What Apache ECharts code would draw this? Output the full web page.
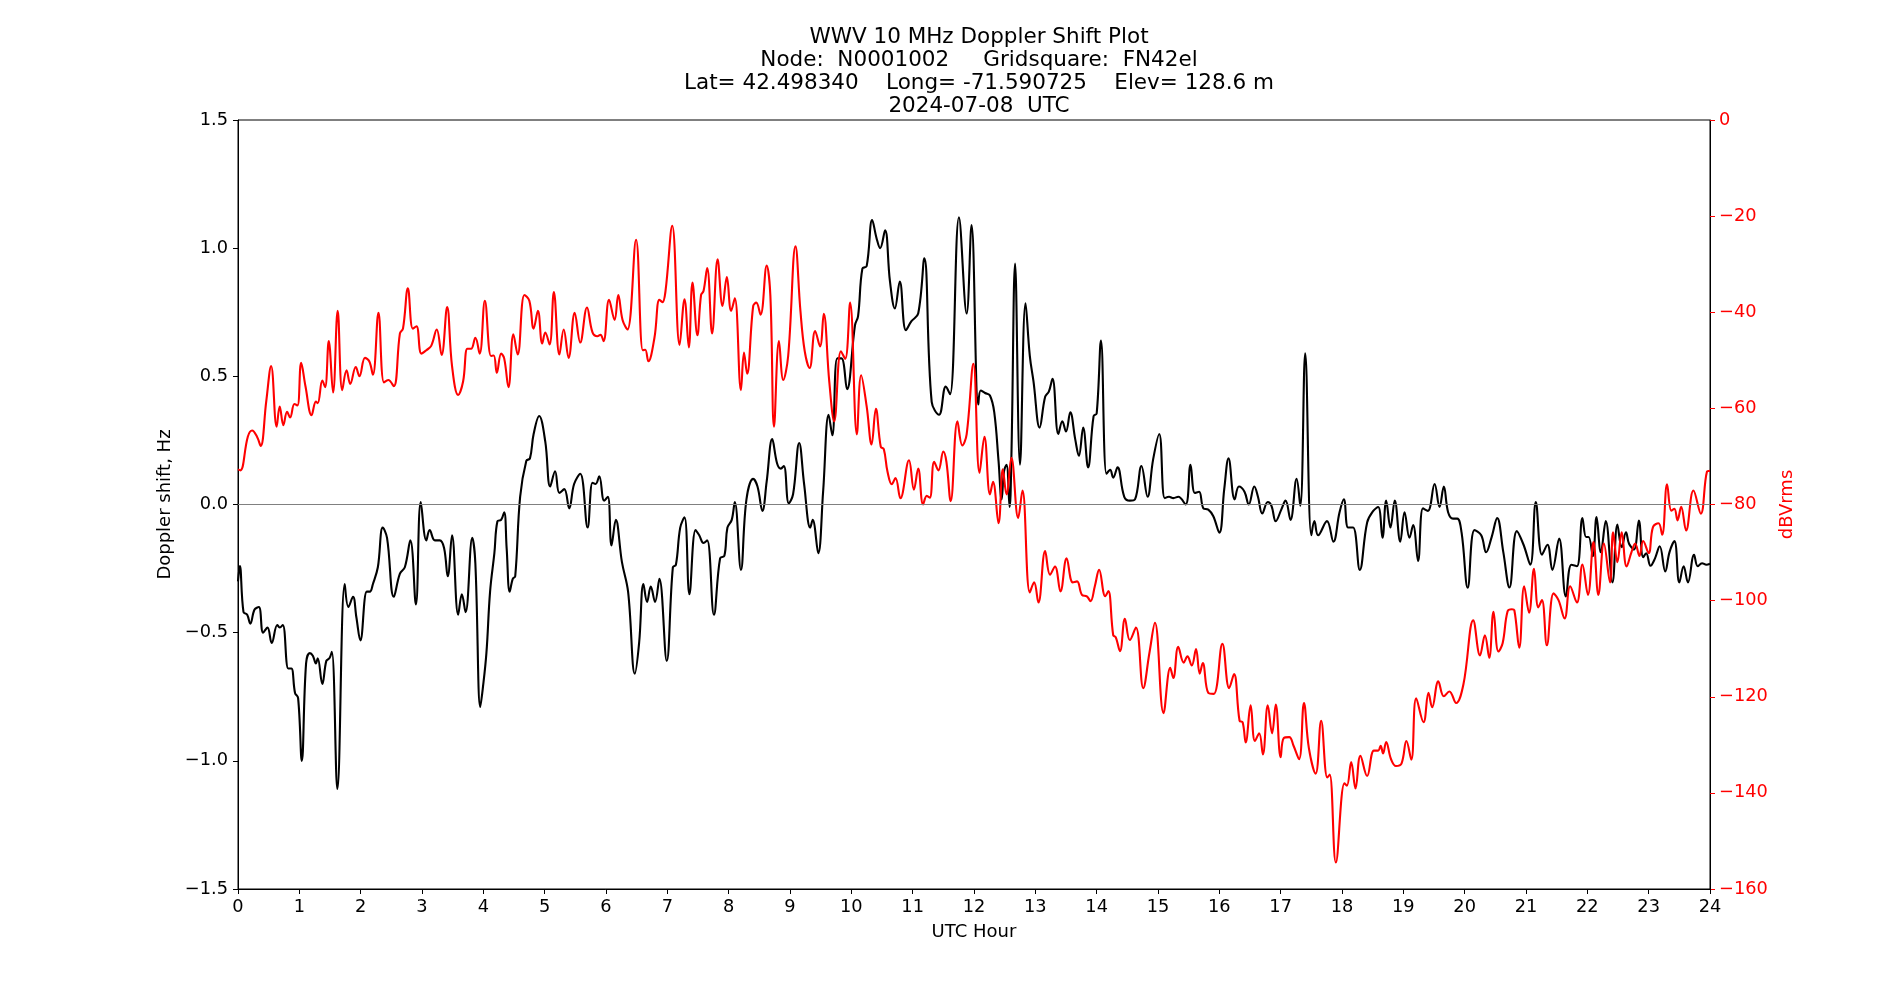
<!DOCTYPE html>
<html>
<head>
<meta charset="utf-8">
<title>WWV 10 MHz Doppler Shift Plot</title>
<script src="https://cdn.jsdelivr.net/npm/echarts@6.0.0/dist/echarts.min.js"></script>
<style>
    html, body { margin: 0; padding: 0; background: #fff; }
    #dopplerPlot { width: 1900px; height: 1000px; }
</style>
</head>
<body>
<div id="dopplerPlot"></div>
<script>
var titleLines = [
    'WWV 10 MHz Doppler Shift Plot',
    'Node:  N0001002     Gridsquare:  FN42el',
    'Lat= 42.498340    Long= -71.590725    Elev= 128.6 m',
    '2024-07-08  UTC'
];

var hourTicks = [0, 24, 1];
var shiftTicks = [-1.5, 1.5, 0.5];
var powerTicks = [-160, 0, 20];

// doppler shift (Hz), black trace
var shiftHours = [0.00, 0.03, 0.09, 0.15, 0.20, 0.27, 0.34, 0.41, 0.48, 0.55, 0.64, 0.68, 0.73, 0.82, 0.87, 0.93, 0.98, 1.04, 1.11, 1.17,
    1.22, 1.27, 1.30, 1.375, 1.44, 1.49, 1.53, 1.62, 1.74, 1.80, 1.875, 1.93, 1.995, 2.10, 2.15, 2.20, 2.28, 2.36, 2.43, 2.54,
    2.64, 2.72, 2.81, 2.90, 2.98, 3.07, 3.125, 3.21, 3.29, 3.36, 3.42, 3.49, 3.59, 3.65, 3.71, 3.82, 3.87, 3.95, 3.99, 4.05,
    4.11, 4.18, 4.23, 4.29, 4.34, 4.38, 4.43, 4.48, 4.52, 4.60, 4.70, 4.76, 4.82, 4.91, 5.01, 5.09, 5.17, 5.24, 5.32, 5.40,
    5.48, 5.58, 5.70, 5.78, 5.83, 5.89, 5.97, 6.03, 6.09, 6.16, 6.26, 6.36, 6.47, 6.54, 6.61, 6.67, 6.73, 6.80, 6.87, 6.99,
    7.09, 7.14, 7.21, 7.28, 7.36, 7.46, 7.52, 7.59, 7.65, 7.76, 7.86, 7.93, 7.98, 8.05, 8.10, 8.20, 8.29, 8.40, 8.47, 8.55,
    8.62, 8.71, 8.79, 8.85, 8.90, 8.98, 9.05, 9.15, 9.23, 9.33, 9.37, 9.46, 9.54, 9.63, 9.69, 9.77, 9.84, 9.93, 10.06, 10.11,
    10.18, 10.25, 10.34, 10.41, 10.47, 10.55, 10.63, 10.71, 10.79, 10.89, 10.98, 11.09, 11.19, 11.31, 11.43, 11.54, 11.61, 11.755, 11.88, 11.96,
    12.07, 12.11, 12.18, 12.26, 12.33, 12.40, 12.45, 12.49, 12.53, 12.58, 12.61, 12.67, 12.75, 12.84, 12.91, 12.97, 13.07, 13.16, 13.22, 13.28,
    13.375, 13.44, 13.50, 13.57, 13.65, 13.71, 13.78, 13.86, 13.95, 14.00, 14.07, 14.16, 14.22, 14.27, 14.34, 14.45, 14.54, 14.625, 14.73, 14.83,
    14.92, 15.02, 15.11, 15.18, 15.25, 15.33, 15.45, 15.53, 15.60, 15.67, 15.74, 15.82, 15.90, 16.00, 16.08, 16.15, 16.25, 16.32, 16.41, 16.48,
    16.57, 16.63, 16.70, 16.79, 16.85, 16.92, 17.01, 17.08, 17.16, 17.26, 17.32, 17.40, 17.50, 17.55, 17.61, 17.755, 17.86, 17.96, 18.03, 18.10,
    18.18, 18.29, 18.41, 18.51, 18.59, 18.66, 18.72, 18.79, 18.86, 18.95, 19.02, 19.10, 19.16, 19.24, 19.32, 19.40, 19.51, 19.59, 19.66, 19.73,
    19.81, 19.88, 19.95, 20.05, 20.16, 20.27, 20.35, 20.44, 20.53, 20.63, 20.73, 20.85, 20.96, 21.07, 21.16, 21.26, 21.35, 21.43, 21.54, 21.65,
    21.74, 21.83, 21.92, 21.98, 22.02, 22.09, 22.15, 22.22, 22.30, 22.41, 22.49, 22.56, 22.63, 22.68, 22.76, 22.84, 22.91, 22.96, 23.03, 23.10,
    23.18, 23.27, 23.34, 23.42, 23.50, 23.57, 23.64, 23.74, 23.80, 23.87, 23.94, 24.00];
var shiftHz = [-0.30, -0.24, -0.42, -0.43, -0.465, -0.41, -0.40, -0.50, -0.48, -0.54, -0.47, -0.48, -0.47, -0.64, -0.64, -0.735, -0.755, -1.00, -0.62, -0.58,
    -0.59, -0.62, -0.60, -0.70, -0.61, -0.60, -0.575, -1.11, -0.31, -0.40, -0.36, -0.44, -0.53, -0.34, -0.34, -0.31, -0.245, -0.09, -0.13, -0.36,
    -0.27, -0.245, -0.14, -0.39, 0.01, -0.14, -0.10, -0.14, -0.14, -0.17, -0.28, -0.12, -0.43, -0.35, -0.42, -0.13, -0.23, -0.79, -0.72, -0.58,
    -0.34, -0.19, -0.065, -0.06, -0.03, -0.17, -0.34, -0.29, -0.28, 0.03, 0.17, 0.18, 0.275, 0.345, 0.245, 0.07, 0.13, 0.045, 0.06, -0.015,
    0.08, 0.12, -0.09, 0.085, 0.08, 0.11, 0.015, 0.03, -0.16, -0.06, -0.225, -0.34, -0.66, -0.54, -0.31, -0.38, -0.32, -0.38, -0.29, -0.61,
    -0.245, -0.235, -0.09, -0.05, -0.35, -0.10, -0.12, -0.15, -0.14, -0.43, -0.21, -0.20, -0.09, -0.06, 0.01, -0.255, 0.02, 0.10, 0.07, -0.025,
    0.09, 0.255, 0.16, 0.14, 0.15, 0.005, 0.04, 0.24, 0.08, -0.09, -0.06, -0.19, 0.05, 0.35, 0.27, 0.57, 0.57, 0.45, 0.70, 0.735,
    0.92, 0.93, 1.11, 1.04, 1.00, 1.07, 0.87, 0.765, 0.87, 0.68, 0.715, 0.745, 0.96, 0.40, 0.35, 0.46, 0.43, 1.12, 0.745, 1.09,
    0.39, 0.445, 0.435, 0.425, 0.36, 0.17, 0.02, 0.13, 0.155, -0.01, 0.19, 0.94, 0.155, 0.785, 0.58, 0.48, 0.30, 0.42, 0.44, 0.49,
    0.275, 0.325, 0.285, 0.36, 0.255, 0.19, 0.30, 0.145, 0.345, 0.355, 0.64, 0.12, 0.135, 0.105, 0.145, 0.03, 0.015, 0.02, 0.15, 0.03,
    0.175, 0.275, 0.025, 0.03, 0.025, 0.03, 0.00, 0.155, 0.045, 0.05, -0.015, -0.02, -0.045, -0.11, 0.06, 0.18, 0.02, 0.07, 0.05, 0.00,
    0.07, 0.03, -0.035, 0.01, -0.005, -0.065, -0.02, 0.015, -0.06, 0.10, -0.005, 0.59, -0.12, -0.065, -0.12, -0.065, -0.145, -0.03, 0.02, -0.09,
    -0.09, -0.255, -0.07, -0.025, -0.01, -0.13, 0.015, -0.09, 0.015, -0.145, -0.03, -0.13, -0.08, -0.22, -0.015, -0.025, 0.08, -0.01, 0.07, -0.03,
    -0.055, -0.055, -0.11, -0.325, -0.10, -0.12, -0.186, -0.127, -0.053, -0.186, -0.324, -0.104, -0.157, -0.235, 0.01, -0.196, -0.157, -0.255, -0.133, -0.359,
    -0.235, -0.241, -0.053, -0.127, -0.127, -0.202, -0.049, -0.186, -0.065, -0.304, -0.078, -0.167, -0.108, -0.153, -0.176, -0.063, -0.206, -0.19, -0.239, -0.212,
    -0.163, -0.261, -0.186, -0.143, -0.304, -0.241, -0.304, -0.196, -0.241, -0.229, -0.235, -0.231];

// received level (dBVrms), red trace
var powerHours = [0.00, 0.04, 0.16, 0.23, 0.31, 0.37, 0.46, 0.54, 0.63, 0.68, 0.74, 0.80, 0.85, 0.92, 0.97, 1.03, 1.10, 1.20, 1.27, 1.30,
    1.375, 1.42, 1.48, 1.55, 1.625, 1.70, 1.77, 1.83, 1.92, 1.98, 2.07, 2.14, 2.20, 2.29, 2.38, 2.45, 2.54, 2.64, 2.69, 2.77,
    2.85, 2.91, 2.99, 3.07, 3.15, 3.24, 3.32, 3.41, 3.49, 3.59, 3.67, 3.74, 3.80, 3.87, 3.94, 4.025, 4.125, 4.17, 4.22, 4.29,
    4.34, 4.41, 4.49, 4.56, 4.67, 4.75, 4.82, 4.89, 4.96, 5.01, 5.08, 5.15, 5.24, 5.31, 5.39, 5.49, 5.58, 5.69, 5.78, 5.86,
    5.91, 5.96, 6.05, 6.14, 6.20, 6.27, 6.35, 6.49, 6.60, 6.64, 6.69, 6.79, 6.87, 6.92, 6.97, 7.08, 7.20, 7.28, 7.35, 7.41,
    7.49, 7.55, 7.59, 7.65, 7.73, 7.82, 7.90, 7.97, 8.04, 8.10, 8.20, 8.25, 8.30, 8.40, 8.45, 8.52, 8.62, 8.68, 8.74, 8.82,
    8.89, 8.97, 9.09, 9.17, 9.24, 9.32, 9.41, 9.49, 9.55, 9.64, 9.72, 9.83, 9.90, 9.98, 10.09, 10.16, 10.25, 10.33, 10.40, 10.48,
    10.53, 10.59, 10.66, 10.72, 10.80, 10.94, 11.02, 11.09, 11.17, 11.23, 11.28, 11.35, 11.42, 11.50, 11.55, 11.62, 11.73, 11.81, 11.88, 11.99,
    12.09, 12.17, 12.26, 12.31, 12.40, 12.47, 12.53, 12.61, 12.72, 12.79, 12.91, 12.98, 13.05, 13.16, 13.24, 13.32, 13.41, 13.51, 13.61, 13.68,
    13.76, 13.84, 13.90, 13.97, 14.04, 14.14, 14.19, 14.27, 14.31, 14.38, 14.46, 14.54, 14.64, 14.76, 14.86, 14.95, 15.09, 15.20, 15.25, 15.33,
    15.42, 15.48, 15.55, 15.62, 15.68, 15.73, 15.82, 15.91, 16.05, 16.16, 16.24, 16.33, 16.38, 16.43, 16.51, 16.58, 16.65, 16.71, 16.79, 16.86,
    16.92, 17.00, 17.05, 17.14, 17.21, 17.30, 17.38, 17.46, 17.57, 17.66, 17.76, 17.80, 17.90, 18.04, 18.08, 18.15, 18.22, 18.30, 18.41, 18.52,
    18.59, 18.63, 18.67, 18.72, 18.80, 18.88, 18.97, 19.05, 19.13, 19.21, 19.33, 19.41, 19.47, 19.57, 19.66, 19.75, 19.86, 19.98, 20.14, 20.25,
    20.33, 20.40, 20.47, 20.55, 20.62, 20.70, 20.77, 20.81, 20.89, 20.97, 21.05, 21.13, 21.20, 21.26, 21.34, 21.45, 21.53, 21.63, 21.72, 21.83,
    21.92, 22.01, 22.10, 22.18, 22.27, 22.37, 22.42, 22.49, 22.56, 22.64, 22.72, 22.78, 22.85, 22.91, 23.00, 23.07, 23.16, 23.22, 23.30, 23.37,
    23.42, 23.47, 23.53, 23.61, 23.73, 23.85, 23.95, 24.00];
var powerDb = [-72.7, -72.9, -65.9, -64.6, -65.9, -67.8, -58.6, -51.2, -63.8, -59.6, -63.5, -60.7, -61.9, -59.1, -59.4, -50.5, -55.4, -61.4, -58.6, -58.9,
    -54.2, -55.6, -46.0, -56.7, -39.7, -56.2, -52.1, -54.9, -51.4, -53.3, -49.5, -50.2, -53.0, -40.1, -54.6, -54.1, -55.4, -44.4, -43.4, -35.0,
    -43.4, -42.9, -48.6, -47.9, -47.0, -43.6, -48.9, -38.9, -51.2, -57.2, -54.4, -47.6, -47.6, -45.3, -48.6, -37.6, -49.1, -49.0, -52.6, -48.6,
    -49.6, -55.6, -44.6, -48.8, -36.4, -37.6, -43.4, -39.7, -46.5, -44.2, -46.7, -35.8, -48.8, -43.6, -49.5, -40.1, -46.3, -39.0, -44.2, -45.0,
    -44.7, -46.0, -37.4, -41.6, -36.4, -41.6, -43.6, -24.9, -47.9, -47.8, -50.2, -45.3, -37.4, -37.9, -35.6, -22.0, -46.8, -37.3, -47.3, -33.8,
    -44.8, -36.4, -35.6, -30.8, -44.4, -29.0, -38.7, -32.7, -39.7, -37.1, -56.2, -48.4, -52.8, -38.7, -38.0, -40.5, -30.3, -36.6, -63.8, -46.0,
    -54.1, -49.1, -26.3, -39.7, -48.1, -51.6, -43.9, -47.1, -40.3, -54.4, -62.7, -48.1, -49.7, -38.0, -65.4, -53.1, -59.6, -67.5, -60.1, -68.0,
    -68.5, -73.2, -75.8, -74.5, -78.7, -70.8, -76.9, -72.5, -80.0, -78.2, -78.6, -71.1, -72.9, -69.0, -71.1, -79.3, -62.7, -67.7, -65.4, -50.7,
    -73.4, -65.9, -77.9, -75.3, -83.9, -72.7, -77.9, -70.3, -82.8, -77.1, -98.3, -96.2, -100.4, -89.7, -94.6, -92.9, -98.1, -91.2, -96.2, -96.0,
    -98.8, -99.1, -100.1, -97.0, -93.6, -99.1, -98.0, -107.2, -107.6, -110.5, -103.8, -108.2, -105.6, -118.2, -110.9, -104.6, -123.4, -114.0, -116.1, -109.6,
    -112.9, -111.6, -113.5, -110.1, -115.2, -113.0, -119.2, -119.4, -109.0, -118.2, -115.3, -125.0, -125.3, -129.5, -121.8, -129.2, -127.6, -132.0, -121.8, -127.6,
    -121.6, -132.6, -128.6, -128.4, -130.2, -133.0, -121.3, -130.7, -136.0, -125.0, -136.8, -136.2, -154.5, -138.0, -138.5, -133.6, -139.1, -132.3, -136.5, -131.2,
    -131.2, -130.2, -131.8, -129.4, -133.0, -134.4, -133.9, -129.2, -133.1, -120.3, -125.3, -119.2, -122.2, -116.8, -119.9, -118.9, -121.3, -117.4, -104.1, -111.4,
    -107.2, -111.9, -102.3, -110.6, -108.8, -102.2, -101.8, -102.0, -109.8, -97.0, -102.5, -93.4, -101.4, -99.9, -109.3, -98.5, -99.9, -103.7, -97.0, -100.4,
    -92.5, -98.8, -87.8, -98.8, -88.1, -96.2, -85.8, -92.0, -85.8, -92.9, -89.9, -88.1, -90.7, -87.6, -90.1, -84.7, -83.9, -86.3, -75.8, -81.3,
    -80.9, -83.3, -80.5, -85.4, -77.1, -81.9, -73.2, -73.0];

var FONT = 'DejaVu Sans';

function toPairs(xs, ys) {
    var out = [];
    for (var i = 0; i < xs.length; i++) {
        out.push([xs[i], ys[i]]);
    }
    return out;
}

// matplotlib style minus sign
function minusFmt(digits) {
    return function (v) {
        return v.toFixed(digits).replace('-', '\u2212');
    };
}

var dom = document.getElementById('dopplerPlot');
var myChart = echarts.init(dom, null, {renderer: 'canvas'});

var option = {
    animation: false,
    backgroundColor: '#ffffff',
    title: {
        text: titleLines.join('\n'),
        left: 974,
        top: 21,
        textAlign: 'center',
        textStyle: {
            fontFamily: FONT,
            fontSize: 21.5,
            lineHeight: 23,
            fontWeight: 'normal',
            color: '#000'
        }
    },
    grid: {
        left: 238,
        right: 190,
        top: 120,
        bottom: 111,
        show: true,
        borderColor: '#000',
        borderWidth: 1,
        backgroundColor: 'transparent'
    },
    xAxis: {
        type: 'value',
        min: hourTicks[0],
        max: hourTicks[1],
        interval: hourTicks[2],
        name: 'UTC Hour',
        nameLocation: 'middle',
        nameGap: 34,
        nameTextStyle: {fontFamily: FONT, fontSize: 18, color: '#000'},
        axisLine: {onZero: false, lineStyle: {color: '#000', width: 1}},
        axisTick: {show: true, inside: false, length: 5, lineStyle: {color: '#000'}},
        axisLabel: {fontFamily: FONT, fontSize: 17.8, color: '#000', margin: 9},
        splitLine: {show: false}
    },
    yAxis: [
        {
            type: 'value',
            position: 'left',
            min: shiftTicks[0],
            max: shiftTicks[1],
            interval: shiftTicks[2],
            name: 'Doppler shift, Hz',
            nameLocation: 'middle',
            nameRotate: 90,
            nameGap: 63,
            nameTextStyle: {fontFamily: FONT, fontSize: 18, color: '#000'},
            axisLine: {show: true, onZero: false, lineStyle: {color: '#000', width: 1}},
            axisTick: {show: true, inside: false, length: 5, lineStyle: {color: '#000'}},
            axisLabel: {fontFamily: FONT, fontSize: 17.8, color: '#000', margin: 10, formatter: minusFmt(1)},
            splitLine: {show: false}
        },
        {
            type: 'value',
            position: 'right',
            min: powerTicks[0],
            max: powerTicks[1],
            interval: powerTicks[2],
            name: 'dBVrms',
            nameLocation: 'middle',
            nameRotate: 90,
            nameGap: 62,
            nameTextStyle: {fontFamily: FONT, fontSize: 18, color: '#ff0000'},
            axisLine: {show: true, onZero: false, lineStyle: {color: '#000', width: 1}},
            axisTick: {show: true, inside: false, length: 5, lineStyle: {color: '#ff0000'}},
            axisLabel: {fontFamily: FONT, fontSize: 17.8, color: '#ff0000', margin: 9, formatter: minusFmt(0)},
            splitLine: {show: false}
        }
    ],
    series: [
        {
            name: 'Doppler shift',
            type: 'line',
            yAxisIndex: 0,
            data: toPairs(shiftHours, shiftHz),
            smooth: 0.4,
            symbol: 'none',
            lineStyle: {color: '#000', width: 2.1},
            z: 3,
            markLine: {
                silent: true,
                symbol: 'none',
                label: {show: false},
                lineStyle: {color: '#808080', width: 1, type: 'solid'},
                data: [{yAxis: 0}]
            }
        },
        {
            name: 'dBVrms',
            type: 'line',
            yAxisIndex: 1,
            data: toPairs(powerHours, powerDb),
            smooth: 0.4,
            symbol: 'none',
            lineStyle: {color: '#ff0000', width: 2.1},
            z: 4
        }
    ]
};

myChart.setOption(option, true);
</script>
</body>
</html>
